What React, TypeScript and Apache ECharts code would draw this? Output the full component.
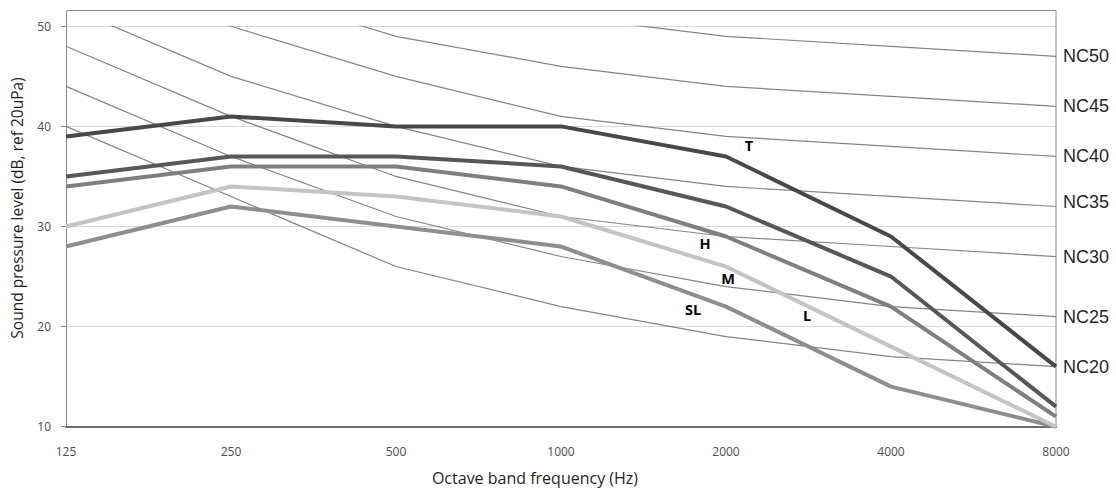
import React, { useEffect, useRef } from "react";
import * as echarts from "echarts";

const categories = ["125", "250", "500", "1000", "2000", "4000", "8000"];
const yTicks = [10, 20, 30, 40, 50];

// NC reference curves
const nc20 = [40, 33, 26, 22, 19, 17, 16];
const nc25 = [44, 37, 31, 27, 24, 22, 21];
const nc30 = [48, 41, 35, 31, 29, 28, 27];
const nc35 = [52, 45, 40, 36, 34, 33, 32];
const nc40 = [56, 50, 45, 41, 39, 38, 37];
const nc45 = [60, 54, 49, 46, 44, 43, 42];
const nc50 = [64, 58, 54, 51, 49, 48, 47];

// Measured spectra
const tData = [39, 41, 40, 40, 37, 29, 16];
const hData = [35, 37, 37, 36, 32, 25, 12];
const mData = [34, 36, 36, 34, 29, 22, 11];
const lData = [30, 34, 33, 31, 26, 18, 10];
const slData = [28, 32, 30, 28, 22, 14, 10];

const ncCurves = [
  { name: "NC50", data: nc50, dy: 0 },
  { name: "NC45", data: nc45, dy: 0 },
  { name: "NC40", data: nc40, dy: 0 },
  { name: "NC35", data: nc35, dy: -4 },
  { name: "NC30", data: nc30, dy: 0 },
  { name: "NC25", data: nc25, dy: 0 },
  { name: "NC20", data: nc20, dy: 0 },
];

const spectra = [
  { name: "SL", data: slData, color: "#8e8e8e" },
  { name: "L", data: lData, color: "#c4c4c4" },
  { name: "M", data: mData, color: "#7f7f7f" },
  { name: "H", data: hData, color: "#575757" },
  { name: "T", data: tData, color: "#484848" },
];

const annotations = [
  { text: "T", x: 749, y: 145 },
  { text: "H", x: 705, y: 243 },
  { text: "M", x: 728, y: 278 },
  { text: "SL", x: 693, y: 309 },
  { text: "L", x: 807, y: 315 },
];

export default function App() {
  const ref = useRef<HTMLDivElement>(null);

  useEffect(() => {
    if (!ref.current) return;
    const chart = echarts.init(ref.current, null, { renderer: "svg" });

    const series: any[] = [];
    ncCurves.forEach((c) => {
      series.push({
        name: c.name,
        type: "line",
        data: c.data,
        symbol: "none",
        clip: true,
        z: 2,
        lineStyle: { color: "#858585", width: 1.2 },
        endLabel: {
          show: true,
          formatter: "{a}",
          distance: 7,
          offset: [0, c.dy],
          fontSize: 18,
          fontFamily: "Liberation Sans, Arial, sans-serif",
          color: "#262626",
        },
      });
    });
    spectra.forEach((s) => {
      series.push({
        name: s.name,
        type: "line",
        data: s.data,
        symbol: "none",
        clip: true,
        z: 3,
        lineStyle: { color: s.color, width: 4 },
      });
    });

    chart.setOption({
      animation: false,
      backgroundColor: "#ffffff",
      grid: { left: 66, right: 60, top: 26.3, bottom: 67.3, containLabel: false },
      xAxis: {
        type: "category",
        data: categories,
        boundaryGap: false,
        axisLine: { show: true, lineStyle: { color: "#1a1a1a", width: 1.5 } },
        axisTick: { show: false },
        axisLabel: {
          margin: 19,
          fontSize: 12,
          fontFamily: "Open Sans, sans-serif",
          color: "#4d4d4d",
        },
        splitLine: { show: false },
      },
      yAxis: {
        type: "value",
        min: yTicks[0],
        max: yTicks[yTicks.length - 1],
        interval: 10,
        axisLine: { show: true, lineStyle: { color: "#888888", width: 1 } },
        axisTick: { show: true, length: 5, lineStyle: { color: "#888888" } },
        axisLabel: {
          margin: 15,
          fontSize: 12,
          fontFamily: "Open Sans, sans-serif",
          color: "#4d4d4d",
        },
        splitLine: { show: true, lineStyle: { color: "#d9d9d9", width: 1 } },
      },
      graphic: [
        {
          type: "rect",
          z: 1,
          silent: true,
          shape: { x: 66.5, y: 10.5, width: 989.5, height: 416.5 },
          style: { fill: "none", stroke: "#8c8c8c", lineWidth: 1 },
        },
        {
          type: "text",
          x: 17,
          y: 208,
          rotation: Math.PI / 2,
          style: {
            text: "Sound pressure level (dB, ref 20uPa)",
            fontSize: 15.5,
            fontFamily: "Open Sans, sans-serif",
            fill: "#1f1f1f",
            align: "center",
            verticalAlign: "middle",
          },
        },
        {
          type: "text",
          x: 535,
          y: 478,
          style: {
            text: "Octave band frequency (Hz)",
            fontSize: 16,
            fontFamily: "Open Sans, sans-serif",
            fill: "#1f1f1f",
            align: "center",
            verticalAlign: "middle",
          },
        },
        ...annotations.map((a) => ({
          type: "text",
          x: a.x,
          y: a.y,
          z: 10,
          style: {
            text: a.text,
            fontSize: 14.5,
            fontWeight: "bold",
            fontFamily: "Open Sans, sans-serif",
            fill: "#000000",
            align: "center",
            verticalAlign: "middle",
          },
        })),
      ],
      series,
    });

    return () => chart.dispose();
  }, []);

  return (
    <div
      ref={ref}
      style={{ position: "fixed", left: 0, top: 0, width: 1116, height: 494 }}
    />
  );
}
